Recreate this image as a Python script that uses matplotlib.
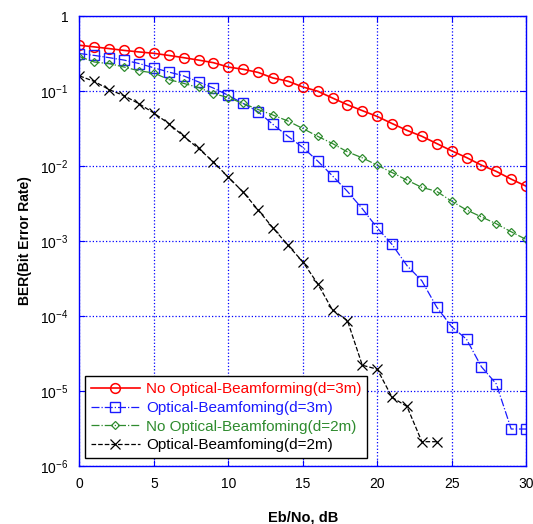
import numpy as np
import matplotlib
matplotlib.use("Agg")
import matplotlib.pyplot as plt
from matplotlib.ticker import FixedLocator, FuncFormatter, NullLocator

plt.rcParams['font.family'] = ['Liberation Sans', 'DejaVu Sans']
plt.rcParams['mathtext.fontset'] = 'custom'
plt.rcParams['mathtext.rm'] = 'Liberation Sans'
plt.rcParams['mathtext.it'] = 'Liberation Sans'
plt.rcParams['mathtext.bf'] = 'Liberation Sans:bold'

ebno = list(range(0, 31))
ebno_d2_opt = list(range(0, 25))

ber_no_opt_3m = [0.41, 0.39, 0.37, 0.35, 0.334, 0.32, 0.30, 0.28, 0.26, 0.24,
                 0.21, 0.196, 0.178, 0.15, 0.136, 0.114, 0.10, 0.081, 0.066, 0.055,
                 0.046, 0.037, 0.030, 0.025, 0.020, 0.016, 0.013, 0.0103, 0.0085, 0.0067,
                 0.0054]
ber_opt_3m = [0.318, 0.30, 0.28, 0.26, 0.234, 0.205, 0.18, 0.16, 0.133, 0.11,
              0.088, 0.0685, 0.053, 0.036, 0.025, 0.0178, 0.0117, 0.0074, 0.0046, 0.0027,
              0.0015, 9.0e-4, 4.7e-4, 2.95e-4, 1.31e-4, 7.2e-5, 4.9e-5, 2.1e-5, 1.24e-5, 3.1e-6,
              3.1e-6]
ber_no_opt_2m = [0.29, 0.245, 0.233, 0.21, 0.187, 0.175, 0.143, 0.127, 0.112, 0.093,
                 0.082, 0.0685, 0.057, 0.048, 0.040, 0.0318, 0.025, 0.020, 0.0155, 0.0129,
                 0.0103, 0.0082, 0.0065, 0.0052, 0.0046, 0.0034, 0.0026, 0.0021, 0.0017, 0.00133,
                 0.00105]
ber_opt_2m = [0.16, 0.135, 0.105, 0.087, 0.068, 0.051, 0.037, 0.025, 0.0172, 0.0114,
              0.0071, 0.0045, 0.0026, 0.0015, 8.8e-4, 5.3e-4, 2.7e-4, 1.2e-4, 8.7e-5, 2.2e-5,
              1.95e-5, 8.2e-6, 6.2e-6, 2.1e-6, 2.1e-6]

labels = ['No Optical-Beamforming(d=3m)', 'Optical-Beamfoming(d=3m)',
          'No Optical-Beamfoming(d=2m)', 'Optical-Beamfoming(d=2m)']
colors = ['#ff0000', '#1a1aff', '#2e8b2e', '#000000']

fig = plt.figure(figsize=(5.33, 5.24), dpi=100)
ax = fig.add_axes([0.149, 0.111, 0.838, 0.858])

ax.semilogy(ebno, ber_no_opt_3m, '-', color=colors[0], marker='o', ms=7,
            mfc='none', mew=1.1, lw=1.2, label=labels[0])
ax.semilogy(ebno, ber_opt_3m, '-.', color=colors[1], marker='s', ms=6.5,
            mfc='none', mew=1.0, lw=0.9, label=labels[1])
ax.semilogy(ebno, ber_no_opt_2m, '-.', color=colors[2], marker='D', ms=4.5,
            mfc='none', mew=0.9, lw=0.9, label=labels[2])
ax.semilogy(ebno_d2_opt, ber_opt_2m, '--', color=colors[3], marker='x', ms=7,
            mew=0.9, lw=0.9, label=labels[3])

ax.set_xlim(0, 30)
ax.set_ylim(1e-6, 1)
ax.xaxis.set_major_locator(FixedLocator([0, 5, 10, 15, 20, 25, 30]))
ax.yaxis.set_major_locator(FixedLocator([1e-6, 1e-5, 1e-4, 1e-3, 1e-2, 1e-1, 1]))
ax.yaxis.set_minor_locator(NullLocator())

def yfmt(v, pos):
    e = int(round(np.log10(v)))
    if e == 0:
        return '1'
    return r'$\mathregular{10^{%d}}$' % e

ax.yaxis.set_major_formatter(FuncFormatter(yfmt))

axis_blue = '#0000ff'
for s in ax.spines.values():
    s.set_color(axis_blue)
    s.set_linewidth(1.0)
ax.tick_params(which='both', direction='in', top=True, right=True,
               color=axis_blue, length=4, labelsize=10, labelcolor='black', pad=8)
ax.grid(True, which='major', color=axis_blue, linestyle=':', linewidth=0.9)

ax.set_xlabel('Eb/No, dB', fontsize=10.5, fontweight='bold', labelpad=14)
ax.set_ylabel('BER(Bit Error Rate)', fontsize=10, fontweight='bold', labelpad=6)

leg = ax.legend(loc='lower left', bbox_to_anchor=(0.005, 0.01), fontsize=11,
                frameon=True, fancybox=False, edgecolor='black', framealpha=1,
                handlelength=3.2, handletextpad=0.4, borderpad=0.4, labelspacing=0.3,
                borderaxespad=0.2)
leg.get_frame().set_linewidth(1.0)
for txt, c in zip(leg.get_texts(), colors):
    txt.set_color(c)

fig.savefig('out.png', dpi=100)
